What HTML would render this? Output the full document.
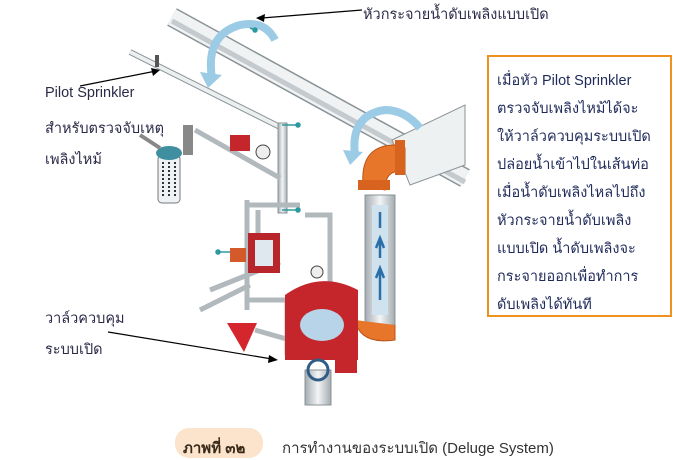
<!DOCTYPE html>
<html><head><meta charset="utf-8"><style>
body{margin:0;width:695px;height:458px;background:#fff;overflow:hidden;position:relative;font-family:"Liberation Sans","DejaVu Sans",sans-serif;}
.t{position:absolute;color:#2a2a48;font-size:14.5px;white-space:nowrap;}
#box{position:absolute;left:487px;top:55px;width:181px;height:258px;border:2px solid #f0901e;}
#box div{position:absolute;left:8px;font-size:14.5px;color:#1f2a5a;white-space:nowrap;}
</style></head><body>
<svg width="695" height="458" style="position:absolute;left:0;top:0">
<defs>
<linearGradient id="vg" x1="0" y1="0" x2="1" y2="0"><stop offset="0" stop-color="#a3abb0"/><stop offset=".5" stop-color="#f3f5f6"/><stop offset="1" stop-color="#a3abb0"/></linearGradient>
</defs>
<!-- top big pipe -->
<line x1="172" y1="17" x2="465" y2="178" stroke="#8a9397" stroke-width="20" />
<line x1="172" y1="17" x2="465" y2="178" stroke="#f0f2f3" stroke-width="17" />
<line x1="172" y1="21" x2="465" y2="182" stroke="#c4cacd" stroke-width="5" />
<!-- right main pipe going up-right -->
<polygon points="392,140 465,105 465,165 410,185" fill="#eef1f2" stroke="#8a9397"/>
<!-- thin pilot pipe -->
<line x1="130" y1="52" x2="282" y2="128" stroke="#8a9397" stroke-width="6"/>
<line x1="130" y1="52" x2="282" y2="128" stroke="#eceff0" stroke-width="4"/>
<rect x="155" y="55" width="4" height="12" fill="#555"/>
<!-- vertical pipe -->
<rect x="278" y="123" width="9" height="90" fill="url(#vg)" stroke="#8a9397"/>
<!-- riser -->
<rect x="365" y="195" width="30" height="130" fill="url(#vg)" stroke="#8a9397"/>
<rect x="372" y="205" width="16" height="110" fill="#cfe2ee"/>
<path d="M380 300 V270 M376 278 L380 268 L384 278 M380 258 V240 M376 248 L380 238 L384 248 M380 228 V212" stroke="#2b6fa8" stroke-width="2.5" fill="none"/>
<!-- orange elbow -->
<path d="M363 185 Q360 145 395 145 L405 148 L405 172 Q385 168 385 190 Z" fill="#e8762a" stroke="#b9531a"/>
<rect x="358" y="180" width="32" height="10" fill="#d8631e"/>
<rect x="395" y="140" width="10" height="35" fill="#d8631e"/>
<path d="M355 320 Q360 345 395 340 L395 325" fill="#e8762a" stroke="#b9531a"/>
<!-- blue arrows -->
<path d="M212 78 Q205 35 240 25 Q265 20 275 40" stroke="#9ccbe6" stroke-width="8" fill="none"/>
<polygon points="200,72 222,75 208,88" fill="#9ccbe6"/>
<path d="M355 155 Q350 115 385 110 Q405 110 420 128" stroke="#9ccbe6" stroke-width="8" fill="none"/>
<polygon points="343,150 363,152 350,165" fill="#9ccbe6"/>
<!-- filter -->
<rect x="158" y="155" width="22" height="48" rx="4" fill="#eef2f4" stroke="#777"/>
<path d="M163 162 V198 M169 162 V198 M175 162 V198" stroke="#333" stroke-width="2" stroke-dasharray="2 2"/>
<ellipse cx="169" cy="153" rx="13" ry="7" fill="#3f8fa0"/>
<line x1="140" y1="135" x2="160" y2="148" stroke="#888" stroke-width="4"/>
<rect x="183" y="125" width="10" height="30" fill="#888"/>
<!-- piping network -->
<path d="M195 130 L280 178 M247 200 V310 M247 205 H300 M258 210 V270 M305 215 H330 V290 M210 290 L280 262 M200 310 L250 285 M245 300 H290 M255 330 L290 340 M287 300 V355" stroke="#b2b9bd" stroke-width="5" fill="none"/>
<rect x="230" y="135" width="20" height="16" fill="#c4262b"/>
<circle cx="263" cy="152" r="7" fill="#eee" stroke="#444"/>
<rect x="248" y="233" width="32" height="40" fill="#b8262b"/>
<rect x="255" y="240" width="18" height="26" fill="#dfe8ee"/>
<rect x="230" y="248" width="16" height="14" fill="#d55a2a"/>
<!-- red valve -->
<path d="M285 295 Q320 270 358 290 L358 360 L285 360 Z" fill="#c4262b"/>
<ellipse cx="322" cy="325" rx="22" ry="16" fill="#b8d4e8"/>
<rect x="335" y="345" width="22" height="28" fill="#c4262b"/>
<rect x="305" y="370" width="26" height="35" fill="url(#vg)" stroke="#8a9397"/>
<circle cx="318" cy="370" r="10" fill="none" stroke="#2f5d86" stroke-width="3"/>
<circle cx="317" cy="272" r="6" fill="#eee" stroke="#444"/>
<polygon points="227,323 257,323 244,352" fill="#d4262c"/>
<!-- teal callout dots -->
<g stroke="#2a9aa0" stroke-width="1.5" fill="#2a9aa0">
<line x1="250" y1="28" x2="255" y2="30"/><circle cx="255" cy="30" r="2"/>
<line x1="282" y1="125" x2="298" y2="125"/><circle cx="298" cy="125" r="2"/>
<line x1="282" y1="210" x2="298" y2="210"/><circle cx="298" cy="210" r="2"/>
<line x1="230" y1="252" x2="218" y2="252"/><circle cx="218" cy="252" r="2"/>
</g>
<!-- leader lines -->
<line x1="80" y1="86" x2="156" y2="71" stroke="#000" stroke-width="1.2"/>
<polygon points="160,70 151,68 153,76" fill="#000"/>
<line x1="362" y1="10" x2="262" y2="18" stroke="#000" stroke-width="1.2"/>
<polygon points="256,18 265,14 264,22" fill="#000"/>
<line x1="108" y1="332" x2="272" y2="359" stroke="#000" stroke-width="1.2"/>
<polygon points="278,360 269,355 268,363" fill="#000"/>
<!-- caption pill -->
<rect x="175" y="428" width="88" height="30" rx="14" fill="#fbe3cc"/>
</svg>
<div class="t" style="left:363px;top:3px;">หัวกระจายน้ำดับเพลิงแบบเปิด</div>
<div class="t" style="left:45px;top:85px;">Pilot Sprinkler</div>
<div class="t" style="left:45px;top:117px;">สำหรับตรวจจับเหตุ</div>
<div class="t" style="left:45px;top:148px;">เพลิงไหม้</div>
<div class="t" style="left:45px;top:307px;">วาล์วควบคุม</div>
<div class="t" style="left:45px;top:338px;">ระบบเปิด</div>
<div id="box">
<div style="top:12px">เมื่อหัว Pilot Sprinkler</div>
<div style="top:40px">ตรวจจับเพลิงไหม้ได้จะ</div>
<div style="top:68px">ให้วาล์วควบคุมระบบเปิด</div>
<div style="top:96px">ปล่อยน้ำเข้าไปในเส้นท่อ</div>
<div style="top:124px">เมื่อน้ำดับเพลิงไหลไปถึง</div>
<div style="top:152px">หัวกระจายน้ำดับเพลิง</div>
<div style="top:180px">แบบเปิด น้ำดับเพลิงจะ</div>
<div style="top:208px">กระจายออกเพื่อทำการ</div>
<div style="top:236px">ดับเพลิงได้ทันที</div>
</div>
<div class="t" style="left:183px;top:436px;font-weight:bold;font-size:15px;color:#3a2a1a;">ภาพที่ ๓๒</div>
<div class="t" style="left:282px;top:436px;font-size:15px;color:#333;">การทำงานของระบบเปิด (Deluge System)</div>
</body></html>
